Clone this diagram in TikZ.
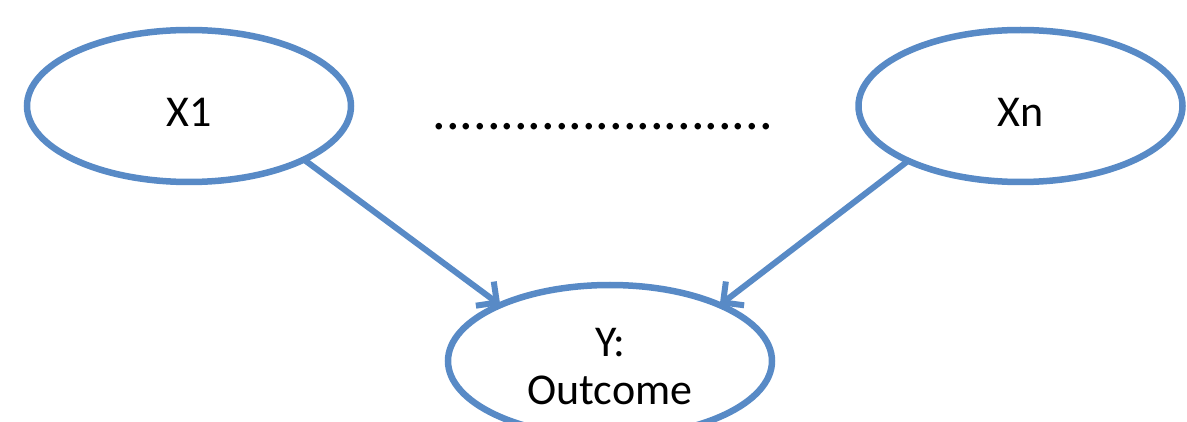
\documentclass[tikz,border=0pt]{standalone}
\usepackage{fontspec}
\setmainfont{Carlito}
\usetikzlibrary{shapes.geometric,arrows.meta}
\definecolor{edgeblue}{RGB}{88,138,198}
\tikzset{
  ell/.style={ellipse, draw=edgeblue, line width=6.5pt, minimum width=324pt, minimum height=152pt, inner sep=0pt, outer sep=0pt},
  lab/.style={font=\fontsize{44}{48}\selectfont, text=black, align=center},
  conn/.style={draw=edgeblue, line width=6pt, -{Straight Barb[length=15pt,width=30pt]}, line cap=round}
}
\begin{document}
\begin{tikzpicture}[x=1pt,y=-1pt]
\useasboundingbox (0,0) rectangle (1187,422);
\clip (0,0) rectangle (1187,422);
\node[ell] (X1) at (189,106) {};
\node[lab] (X1t) at (189,112) {X1};
\node[ell] (Xn) at (1020.5,106) {};
\node[lab] (Xnt) at (1020.5,112) {Xn};
\node[ell] (Y) at (610,361) {};
\node[lab, anchor=base] (Yt) at (610,356) {Y:};
\node[lab, anchor=base] (Yt2) at (610,404) {Outcome};
\node[anchor=base, inner sep=0pt, font=\fontsize{54}{60}\selectfont] (dots) at (603,130) {.........................};
\draw[conn] (X1.-25.6) -- (Y.153);
\draw[conn] (Xn.206.4) -- (Y.27);
\end{tikzpicture}
\end{document}
